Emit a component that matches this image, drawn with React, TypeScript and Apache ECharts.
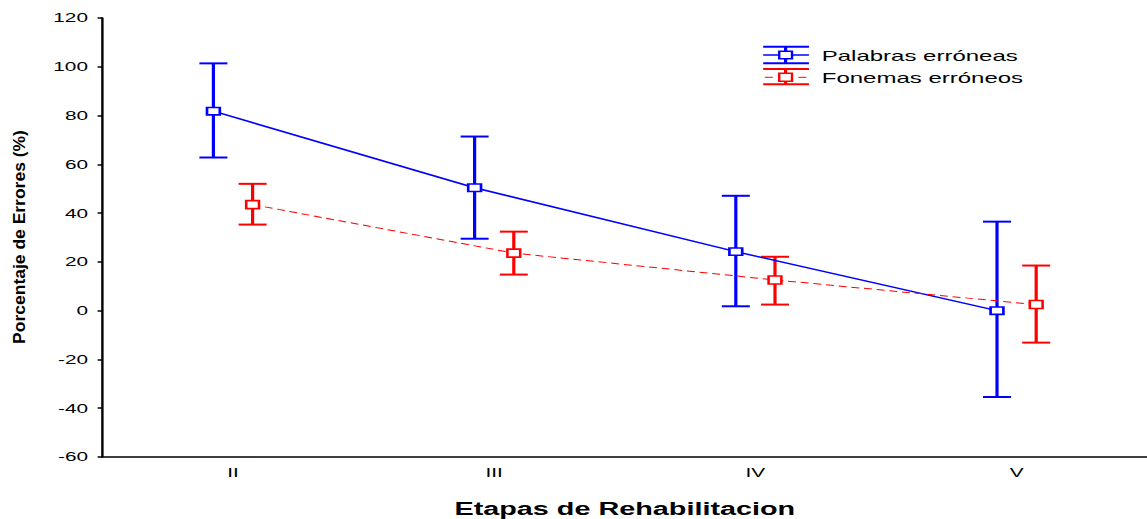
import React, { useEffect, useRef } from "react";
import * as echarts from "echarts";

const stages = ["II", "III", "IV", "V"];
const palabrasMean = [81.8, 50.4, 24.2, 0];
const palabrasUpper = [101.4, 71.4, 47.1, 36.5];
const palabrasLower = [62.8, 29.5, 1.8, -35.4];
const fonemasMean = [43.5, 23.6, 12.6, 2.5];
const fonemasUpper = [52.0, 32.4, 22.1, 18.5];
const fonemasLower = [35.3, 14.8, 2.5, -13.1];
const yTicks = { min: -60, max: 120, interval: 20 };

const STRETCH = 1.6;
const W = 717;
const H = 519;
const OFFSET = 0.075;
const FONT = "'Liberation Sans', Arial, sans-serif";
const BLUE = "#0000ff";
const RED = "#ff0000";

function makePoints(mean: number[], shift: number) {
  return mean.map((v, i) => [i + 1 + shift, v]);
}
function makeBars(up: number[], lo: number[], shift: number) {
  return up.map((u, i) => [i + 1 + shift, u, lo[i]]);
}

function errorRender(color: string) {
  return (params: any, api: any) => {
    const x = api.value(0);
    const top = api.coord([x, api.value(1)]);
    const bot = api.coord([x, api.value(2)]);
    const hw = 8.75;
    const st = { stroke: color, lineWidth: 2 };
    return {
      type: "group",
      children: [
        { type: "line", shape: { x1: top[0], y1: top[1], x2: bot[0], y2: bot[1] }, style: st },
        { type: "line", shape: { x1: top[0] - hw, y1: top[1], x2: top[0] + hw, y2: top[1] }, style: st },
        { type: "line", shape: { x1: bot[0] - hw, y1: bot[1], x2: bot[0] + hw, y2: bot[1] }, style: st },
      ],
    };
  };
}

export default function App() {
  const ref = useRef<HTMLDivElement>(null);
  useEffect(() => {
    if (!ref.current) return;
    const chart = echarts.init(ref.current, null, { renderer: "svg" });
    const lx1 = 477;
    const lx2 = 505.6;
    const lc = 491;
    chart.setOption({
      animation: false,
      backgroundColor: "#ffffff",
      grid: { left: 64, right: 0, top: 18, bottom: 62, containLabel: false, outerBoundsMode: "none" },
      xAxis: [
        {
          type: "category",
          data: stages,
          boundaryGap: true,
          position: "bottom",
          axisLine: { onZero: false, lineStyle: { color: "#000", width: 1.5 } },
          axisTick: { inside: true, alignWithLabel: true, length: 3, lineStyle: { color: "#000", width: 1.5 } },
          axisLabel: { color: "#000", fontSize: 13, fontFamily: FONT, margin: 9 },
          splitLine: { show: false },
          name: "Etapas de Rehabilitacion",
          nameLocation: "middle",
          nameGap: 43,
          nameTextStyle: { color: "#000", fontSize: 18, fontWeight: "bold", fontFamily: FONT },
        },
        { type: "value", min: 0.5, max: 4.5, show: false },
      ],
      yAxis: {
        type: "value",
        min: yTicks.min,
        max: yTicks.max,
        interval: yTicks.interval,
        axisLine: { show: true, onZero: false, lineStyle: { color: "#000", width: 1.5 } },
        axisTick: { show: true, inside: false, length: 3, lineStyle: { color: "#000", width: 1.5 } },
        axisLabel: { color: "#000", fontSize: 13, fontFamily: FONT, margin: 9 },
        splitLine: { show: false },
      },
      graphic: [
        {
          type: "text",
          x: 12,
          y: 237,
          rotation: Math.PI / 2,
          scaleY: 0.6,
          style: {
            text: "Porcentaje de Errores (%)",
            fontSize: 17.5,
            fontWeight: "bold",
            fontFamily: FONT,
            fill: "#000",
            align: "center",
            verticalAlign: "middle",
          },
        },
        { type: "line", shape: { x1: lx1, y1: 46.7, x2: lx2, y2: 46.7 }, style: { stroke: BLUE, lineWidth: 2 } },
        { type: "line", shape: { x1: lx1, y1: 55, x2: lx2, y2: 55 }, style: { stroke: BLUE, lineWidth: 1.5 } },
        { type: "line", shape: { x1: lx1, y1: 63.3, x2: lx2, y2: 63.3 }, style: { stroke: BLUE, lineWidth: 2 } },
        { type: "line", shape: { x1: lc, y1: 46.7, x2: lc, y2: 63.3 }, style: { stroke: BLUE, lineWidth: 2 } },
        { type: "rect", shape: { x: lc - 4, y: 51.3, width: 8, height: 7.4 }, style: { fill: "#fff", stroke: BLUE, lineWidth: 1.5 } },
        { type: "line", shape: { x1: lx1, y1: 69, x2: lx2, y2: 69 }, style: { stroke: RED, lineWidth: 2 } },
        { type: "line", shape: { x1: 478, y1: 77.3, x2: 483, y2: 77.3 }, style: { stroke: RED, lineWidth: 1 } },
        { type: "line", shape: { x1: 499, y1: 77.3, x2: 504, y2: 77.3 }, style: { stroke: RED, lineWidth: 1 } },
        { type: "line", shape: { x1: lx1, y1: 84.3, x2: lx2, y2: 84.3 }, style: { stroke: RED, lineWidth: 2 } },
        { type: "line", shape: { x1: lc, y1: 69, x2: lc, y2: 84.3 }, style: { stroke: RED, lineWidth: 2 } },
        { type: "rect", shape: { x: lc - 4, y: 73.3, width: 8, height: 8 }, style: { fill: "#fff", stroke: RED, lineWidth: 1.5 } },
        {
          type: "text",
          x: 513.6,
          y: 55.5,
          style: { text: "Palabras erróneas", fontSize: 15, fontFamily: FONT, fill: "#000", verticalAlign: "middle" },
        },
        {
          type: "text",
          x: 513.6,
          y: 77.5,
          style: { text: "Fonemas erróneos", fontSize: 15, fontFamily: FONT, fill: "#000", verticalAlign: "middle" },
        },
      ],
      series: [
        {
          name: "Palabras erróneas (error)",
          type: "custom",
          xAxisIndex: 1,
          yAxisIndex: 0,
          renderItem: errorRender(BLUE),
          data: makeBars(palabrasUpper, palabrasLower, -OFFSET),
          z: 2,
        },
        {
          name: "Fonemas erróneos (error)",
          type: "custom",
          xAxisIndex: 1,
          yAxisIndex: 0,
          renderItem: errorRender(RED),
          data: makeBars(fonemasUpper, fonemasLower, OFFSET),
          z: 2,
        },
        {
          name: "Palabras erróneas",
          type: "line",
          xAxisIndex: 1,
          yAxisIndex: 0,
          data: makePoints(palabrasMean, -OFFSET),
          symbol: "rect",
          symbolSize: [8, 7.4],
          showAllSymbol: true,
          lineStyle: { color: BLUE, width: 1.5 },
          itemStyle: { color: "#fff", borderColor: BLUE, borderWidth: 1.6 },
          z: 3,
        },
        {
          name: "Fonemas erróneos",
          type: "line",
          xAxisIndex: 1,
          yAxisIndex: 0,
          data: makePoints(fonemasMean, OFFSET),
          symbol: "rect",
          symbolSize: [8, 8],
          showAllSymbol: true,
          lineStyle: { color: RED, width: 1, type: [5, 3] },
          itemStyle: { color: "#fff", borderColor: RED, borderWidth: 1.6 },
          z: 3,
        },
      ],
    });
    return () => chart.dispose();
  }, []);
  return (
    <div
      style={{
        position: "absolute",
        left: 0,
        top: 0,
        width: W * STRETCH,
        height: H,
        overflow: "hidden",
        background: "#fff",
      }}
    >
      <div
        ref={ref}
        style={{
          width: W,
          height: H,
          transform: `scaleX(${STRETCH})`,
          transformOrigin: "0 0",
        }}
      />
    </div>
  );
}
